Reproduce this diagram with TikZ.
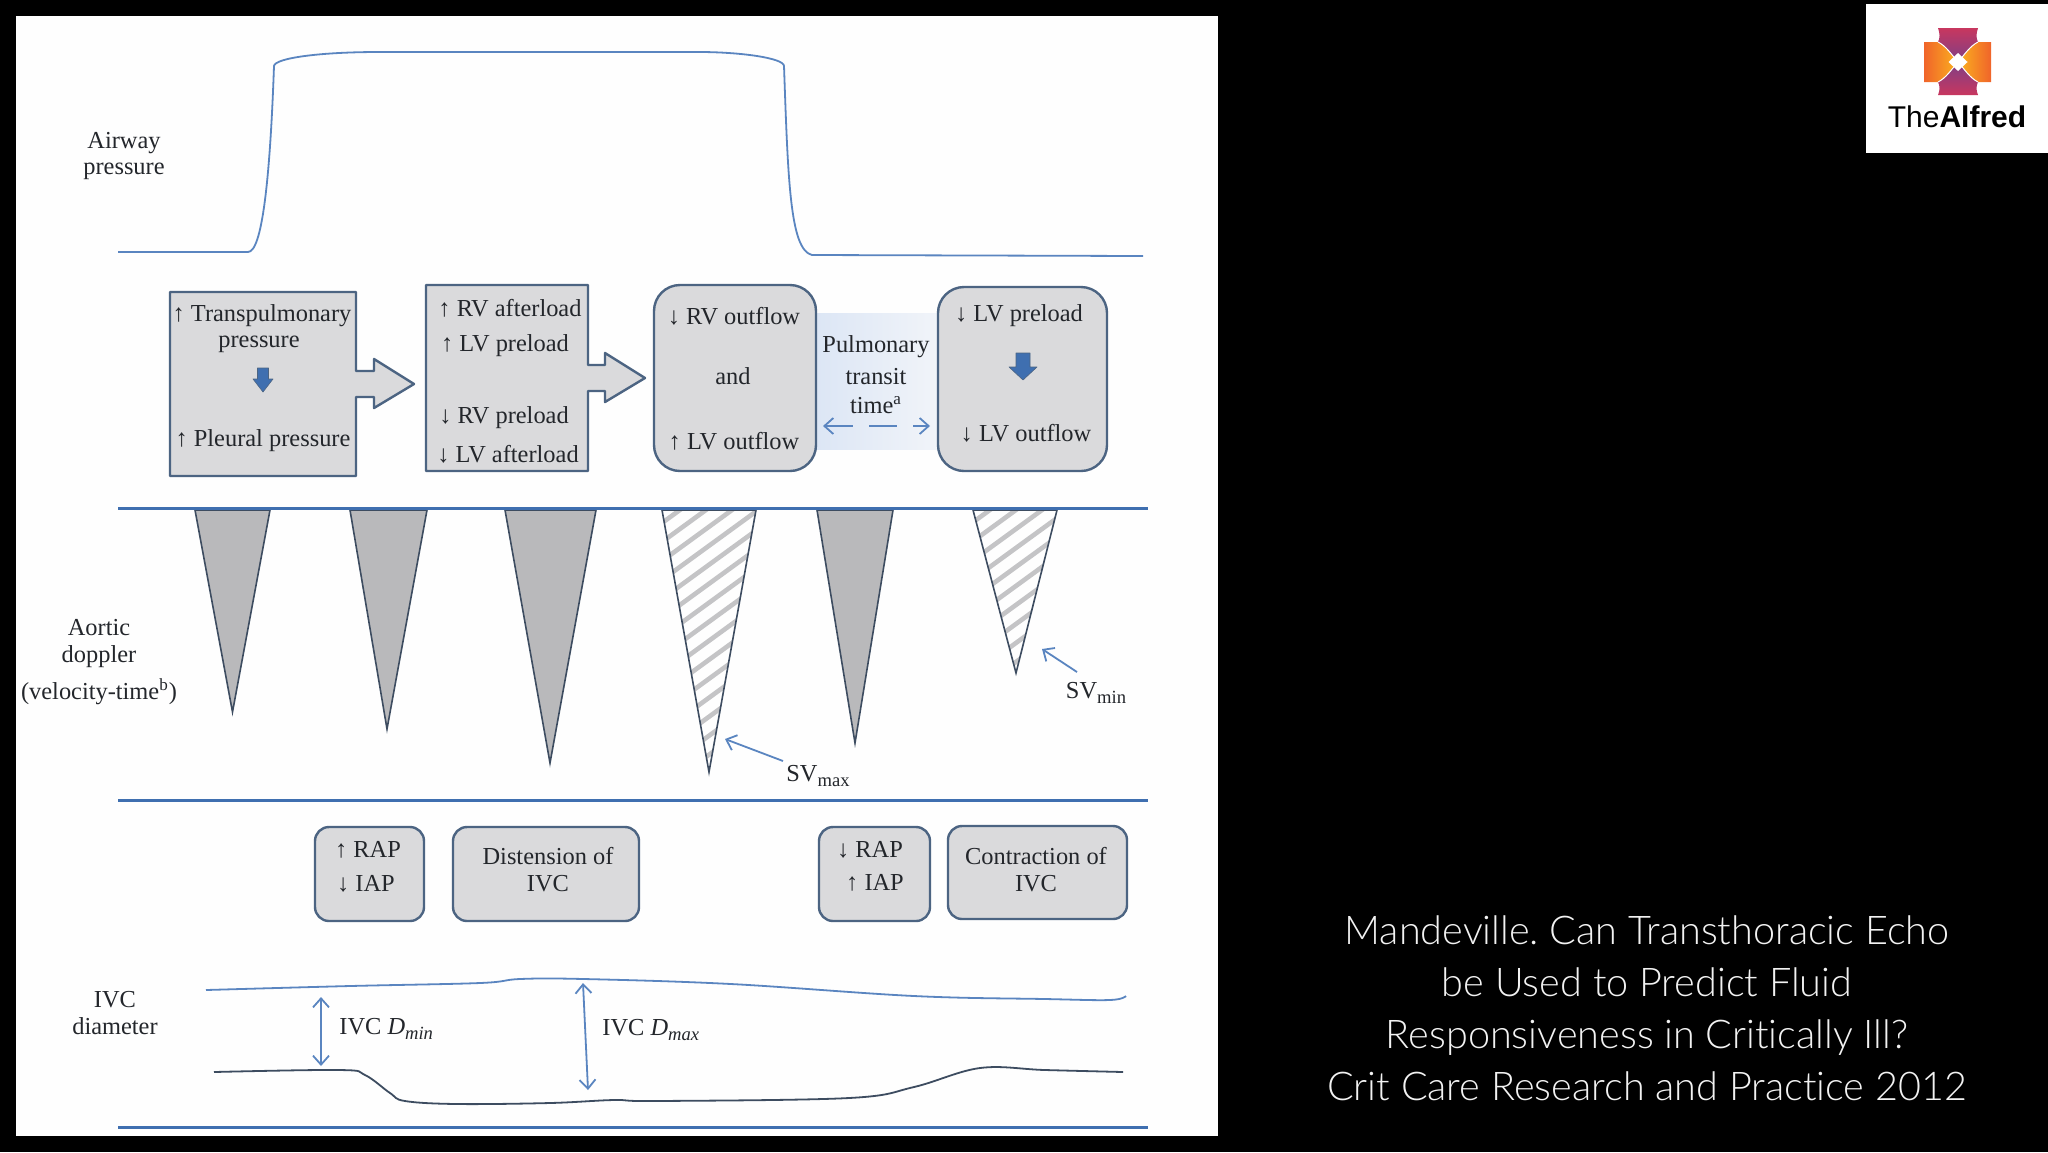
\documentclass[tikz,border=0pt]{standalone}
\usepackage{fontspec}
\setmainfont{Liberation Serif}
\newfontfamily\captionfont[Ligatures=NoCommon]{Lato Light}
\newfontfamily\logofont{Liberation Sans}
\usetikzlibrary{arrows.meta}
\definecolor{panelwhite}{HTML}{FEFEFE}
\definecolor{boxgrey}{HTML}{DADADC}
\definecolor{boxedge}{HTML}{4C6482}
\definecolor{ruleblue}{HTML}{3F6FB0}
\definecolor{curveblue}{HTML}{5A85C0}
\definecolor{wavegrey}{HTML}{B9B9BB}
\definecolor{stripegrey}{HTML}{C4C4C6}
\definecolor{waveedge}{HTML}{3D4C60}
\definecolor{inktext}{HTML}{23262B}
\definecolor{transleft}{HTML}{DCE6F5}
\definecolor{transmid}{HTML}{FBF7EE}
\definecolor{transright}{HTML}{F1F4F9}
\definecolor{logomagenta}{HTML}{C8375F}
\definecolor{logopurple}{HTML}{7E3F86}
\definecolor{logoorange}{HTML}{F0642A}
\definecolor{logoyellow}{HTML}{FBB21F}
\newcommand{\lowtext}[1]{\raisebox{-2.5pt}{\fontsize{9.3}{12}\selectfont #1}}
\frenchspacing
\tikzset{
  label text/.style={inner sep=0pt, text=inktext, font=\fontsize{12.2}{14}\selectfont},
  stack text/.style={label text, align=center},
  flow box/.style={draw=boxedge, line width=1.2pt, fill=boxgrey, line join=round},
  wave/.style={draw=waveedge, line width=0.8pt, line join=miter},
  rule/.style={draw=ruleblue, line width=1.5pt},
  thin arrow/.style={draw=curveblue, line width=0.9pt, <->, >={Straight Barb[length=4.5pt,width=8pt]}},
  down block/.style={draw=boxedge, line width=0.3pt, fill=ruleblue, line join=round},
}
\begin{document}
\begin{tikzpicture}[x=0.5pt, y=-0.5pt]
\useasboundingbox (0,0) rectangle (2048,1152);
\fill[black] (0,0) rectangle (2048,1152);
\fill[panelwhite] (16,16) rectangle (1218,1136);
% Airway pressure
    \node[stack text] (airway) at (124,156) {Airway\\[-1pt]pressure};
    \draw[curveblue, line width=0.9pt] (118,252) -- (248,252)
        .. controls (262,252) and (270,180) .. (274,66)
        .. controls (275,58) and (320,52) .. (379,52) -- (699,52)
        .. controls (740,52) and (784,58) .. (784,66)
        .. controls (788,180) and (790,250) .. (812,255) -- (1143,256);
% Boxes with block arrows
    \draw[flow box] (170,292) -- (356,292) -- (356,371) -- (374,371) -- (374,359) -- (414,384)
        -- (374,408) -- (374,397) -- (356,397) -- (356,476) -- (170,476) -- cycle;
    \draw[flow box] (426,285) -- (588,285) -- (588,365) -- (605,365) -- (605,353) -- (645,378)
        -- (605,402) -- (605,391) -- (588,391) -- (588,471) -- (426,471) -- cycle;
    \fill[left color=transleft, middle color=transmid, right color=transright] (816,313) rectangle (938,449);
    \draw[flow box, rounded corners=13pt] (654,285) rectangle (816,471);
    \draw[flow box, rounded corners=13pt] (938,287) rectangle (1107,471);
% Box texts
    \node[label text] (transp) at (262,316) {↑ Transpulmonary};
    \node[label text] (pressa) at (259,344) {pressure};
    \draw[down block] (257.5,368) -- (268.5,368) -- (268.5,379) -- (273,379) -- (263,392) -- (253,379) -- (257.5,379) -- cycle;
    \node[label text] (pleural) at (263,441) {↑ Pleural pressure};
    \node[label text] (rvafter) at (510,308) {↑ RV afterload};
    \node[label text] (lvpre) at (505,346) {↑ LV preload};
    \node[label text] (rvpre) at (504,418) {↓ RV preload};
    \node[label text] (lvafter) at (508,454) {↓ LV afterload};
    \node[label text] (rvout) at (734,316) {↓ RV outflow};
    \node[label text] (and) at (733,376) {and};
    \node[label text] (lvout) at (734,441) {↑ LV outflow};
    \node[label text] (pulm) at (876,347) {Pulmonary};
    \node[label text] (transit) at (876,377) {transit};
    \node[label text] (time) at (876,405) {time\textsuperscript{a}};
    \coordinate (transl) at (823,426);
    \coordinate (transr) at (930,426);
    \draw[thin arrow, dash pattern=on 14pt off 8pt] (transl) -- (transr);
    \node[label text] (lvprer) at (1019,316) {↓ LV preload};
    \draw[down block] (1016,353) -- (1030,353) -- (1030,367) -- (1037,367) -- (1023,380) -- (1009,367) -- (1016,367) -- cycle;
    \node[label text] (lvoutr) at (1026,433) {↓ LV outflow};
% Aortic doppler
    \draw[rule] (118,508) -- (1148,508);
    \draw[rule] (118,800) -- (1148,800);
    \node[stack text] (aortic) at (99,628) {Aortic};
    \node[stack text] (doppler) at (99,657) {doppler};
    \node[stack text] (velocity) at (99,692) {(velocity-time\textsuperscript{b})};
    \draw[wave, fill=wavegrey] (195,510) -- (270,510) -- (232.5,712) -- cycle;
    \draw[wave, fill=wavegrey] (350,510) -- (427,510) -- (387,729) -- cycle;
    \draw[wave, fill=wavegrey] (505,510) -- (596,510) -- (550,763) -- cycle;
    \draw[wave, fill=wavegrey] (817,510) -- (893,510) -- (855,743) -- cycle;
    \begin{scope}
        \clip (662,510) -- (756,510) -- (709,772) -- cycle;
        \foreach \k in {0,...,17}
            \draw[stripegrey, line width=2.3pt] (640,520+19*\k) -- ++(140,-102);
    \end{scope}
    \draw[wave] (662,510) -- (756,510) -- (709,772) -- cycle;
    \begin{scope}
        \clip (973,510) -- (1057,510) -- (1016,673) -- cycle;
        \foreach \k in {0,...,12}
            \draw[stripegrey, line width=2.3pt] (950,520+19*\k) -- ++(140,-102);
    \end{scope}
    \draw[wave] (973,510) -- (1057,510) -- (1016,673) -- cycle;
    \draw[rule] (118,508) -- (1148,508);
    \node[label text] (svmax) at (818,776) {SV\lowtext{max}};
    \node[label text] (svmin) at (1096,693) {SV\lowtext{min}};
    \coordinate (svmaxtail) at (783,761);
    \coordinate (svmaxtip) at (725,739);
    \coordinate (svmintail) at (1077,672);
    \coordinate (svmintip) at (1042,649);
    \draw[thin arrow, <-] (svmaxtip) -- (svmaxtail);
    \draw[thin arrow, <-] (svmintip) -- (svmintail);
% RAP and IVC boxes
    \node[flow box, rounded corners=7pt, minimum width=54.5pt, minimum height=47pt] (rapa) at (369.5,874) {};
    \node[flow box, rounded corners=7pt, minimum width=93pt, minimum height=47pt] (dist) at (546,874) {};
    \node[flow box, rounded corners=7pt, minimum width=55.5pt, minimum height=47pt] (rapb) at (874.5,874) {};
    \node[flow box, rounded corners=7pt, minimum width=89.5pt, minimum height=46.5pt] (contr) at (1037.5,872.5) {};
    \node[label text] (rapup) at (368,850) {↑ RAP};
    \node[label text] (iapdown) at (366,884) {↓ IAP};
    \node[stack text] (disttext) at (548,870) {Distension of\\[-0.5pt]IVC};
    \node[label text] (rapdown) at (870,850) {↓ RAP};
    \node[label text] (iapup) at (875,883) {↑ IAP};
    \node[stack text] (contrtext) at (1036,870) {Contraction of\\[-0.5pt]IVC};
% IVC diameter
    \node[stack text] (ivc) at (115,1013) {IVC\\[-0.5pt]diameter};
    \draw[curveblue, line width=0.9pt] plot[smooth, tension=0.6] coordinates
        {(206,990) (350,986) (480,983) (520,979) (584,979) (731,984) (914,996) (1045,999) (1110,1000) (1126,996)};
    \draw[waveedge, line width=0.9pt] plot[smooth, tension=0.6] coordinates
        {(214,1072) (340,1070) (365,1075) (390,1093) (405,1101) (457,1104) (550,1103) (614,1100) (656,1101) (849,1098) (914,1087) (980,1068) (1045,1070) (1123,1072)};
    \coordinate (dmintop) at (321,997);
    \coordinate (dminbot) at (321,1066);
    \coordinate (dmaxtop) at (583,983);
    \coordinate (dmaxbot) at (588,1090);
    \draw[thin arrow] (dmintop) -- (dminbot);
    \draw[thin arrow] (dmaxtop) -- (dmaxbot);
    \node[label text, anchor=west] (dmin) at (339,1029) {IVC \textit{D}\lowtext{\textit{min}}};
    \node[label text, anchor=west] (dmax) at (602,1030) {IVC \textit{D}\lowtext{\textit{max}}};
    \draw[rule] (118,1127) -- (1148,1127);
% Caption
    \node[text=white!95!black, align=center, inner sep=0pt, font=\captionfont\fontsize{19.8}{26}\selectfont] (caption) at (1647,1008)
        {Mandeville. Can Transthoracic Echo\\be Used to Predict Fluid\\Responsiveness in Critically Ill?\\Crit Care Research and Practice 2012};
% Logo
    \fill[white] (1866,4) rectangle (2048,153);
    \shade[left color=logoorange, right color=logoyellow] (1924,42) -- (1945,42) .. controls (1949,50) and (1953,56) .. (1958,62)
        .. controls (1953,68) and (1949,74) .. (1945,82) -- (1924,82) -- cycle;
    \shade[right color=logoorange, left color=logoyellow] (1991,42) -- (1971,42) .. controls (1967,50) and (1963,56) .. (1958,62)
        .. controls (1963,68) and (1967,74) .. (1971,82) -- (1991,82) -- cycle;
    \shade[top color=logomagenta, bottom color=logopurple] (1938,28) -- (1978,28) .. controls (1976,34) and (1976,38) .. (1978,42)
        .. controls (1970,46) and (1965,54) .. (1958,62) .. controls (1951,54) and (1946,46) .. (1938,42) .. controls (1940,38) and (1940,34) .. cycle;
    \shade[bottom color=logomagenta, top color=logopurple] (1938,95) -- (1978,95) .. controls (1976,90) and (1976,86) .. (1978,82)
        .. controls (1970,78) and (1965,70) .. (1958,62) .. controls (1951,70) and (1946,78) .. (1938,82) .. controls (1940,86) and (1940,90) .. cycle;
    \draw[white, line width=0.5pt] (1938,42) .. controls (1946,46) and (1951,54) .. (1958,62) .. controls (1965,70) and (1970,78) .. (1978,82);
    \draw[white, line width=0.5pt] (1978,42) .. controls (1970,46) and (1965,54) .. (1958,62) .. controls (1951,70) and (1946,78) .. (1938,82);
    \fill[white] (1958,53) -- (1967.5,62) -- (1958,71) -- (1948.5,62) -- cycle;
    \node[inner sep=0pt, text=black, font=\logofont\fontsize{15}{18}\selectfont] (alfred) at (1957,117) {The\textbf{Alfred}};
\end{tikzpicture}
\end{document}
